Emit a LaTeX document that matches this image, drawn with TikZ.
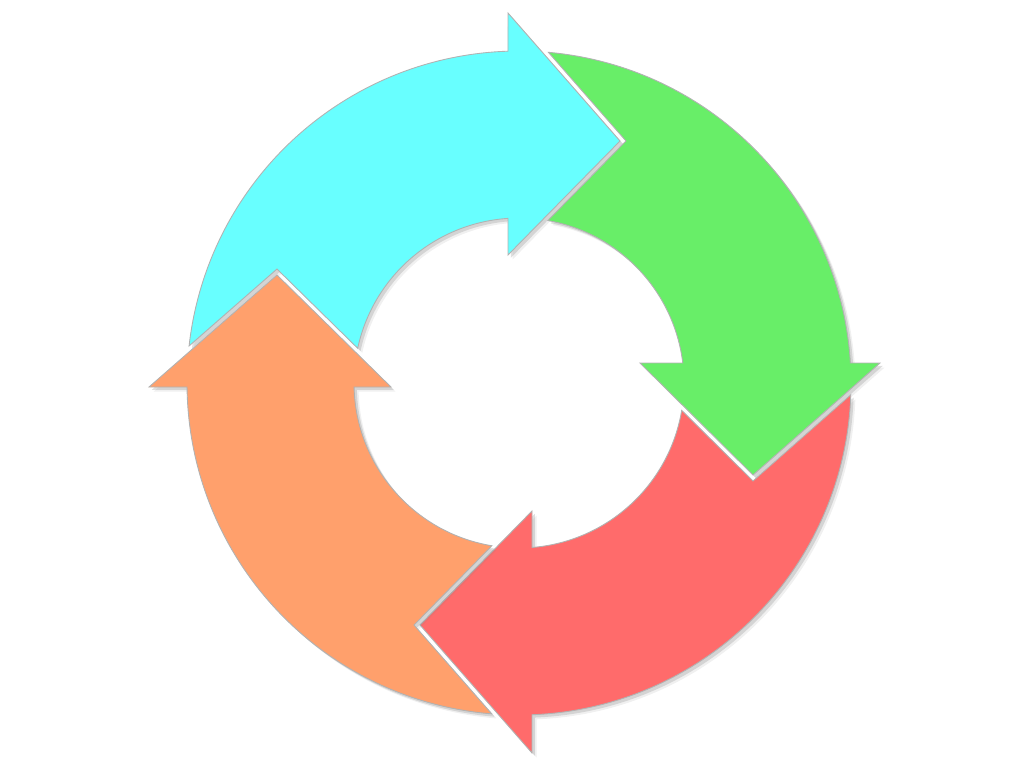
\documentclass[tikz,border=0pt]{standalone}
\usetikzlibrary{shadows}
\definecolor{cyanarrow}{HTML}{68FFFF}
\definecolor{greenarrow}{HTML}{68EE68}
\definecolor{redarrow}{HTML}{FF6B6B}
\definecolor{orangearrow}{HTML}{FFA06C}
\begin{document}
\begin{tikzpicture}[x=0.02cm, y=0.02cm,
  cyclearrow/.style={draw=black!30, line width=0.5pt,
    drop shadow={shadow xshift=2.6pt, shadow yshift=-2.6pt, opacity=0.12},
    drop shadow={shadow xshift=1.6pt, shadow yshift=-1.6pt, opacity=0.25}}]
  \useasboundingbox (-519,-385) rectangle (505,383);

  \foreach \rot/\col/\d/\hi/\ho/\tr/\tO/\nx/\ny/\tI/\aI/\aO in
    {0/cyanarrow/11/128/370/242/173.59/-242/114/167.85/93.82/91.90,
     -90/greenarrow/20/121/361/234/174.92/-242/107/169.93/96.96/93.45,
     -180/redarrow/13/128/370/242/177.97/-234/98/170.46/94.52/92.24,
     90/orangearrow/4/128/370/242/175.30/-242/105/170.53/91.39/90.69}{
    \begin{scope}[rotate=\rot]
      \draw[cyclearrow, fill=\col]
        (\tO:332) -- (\nx,\ny) -- (\tI:165)
        arc[start angle=\tI, end angle=\aI, radius=165]
        -- (-\d,\hi) -- ({112-\d},\tr) -- (-\d,\ho) -- (\aO:332)
        arc[start angle=\aO, end angle=\tO, radius=332] -- cycle;
    \end{scope}
  }
\end{tikzpicture}
\end{document}
